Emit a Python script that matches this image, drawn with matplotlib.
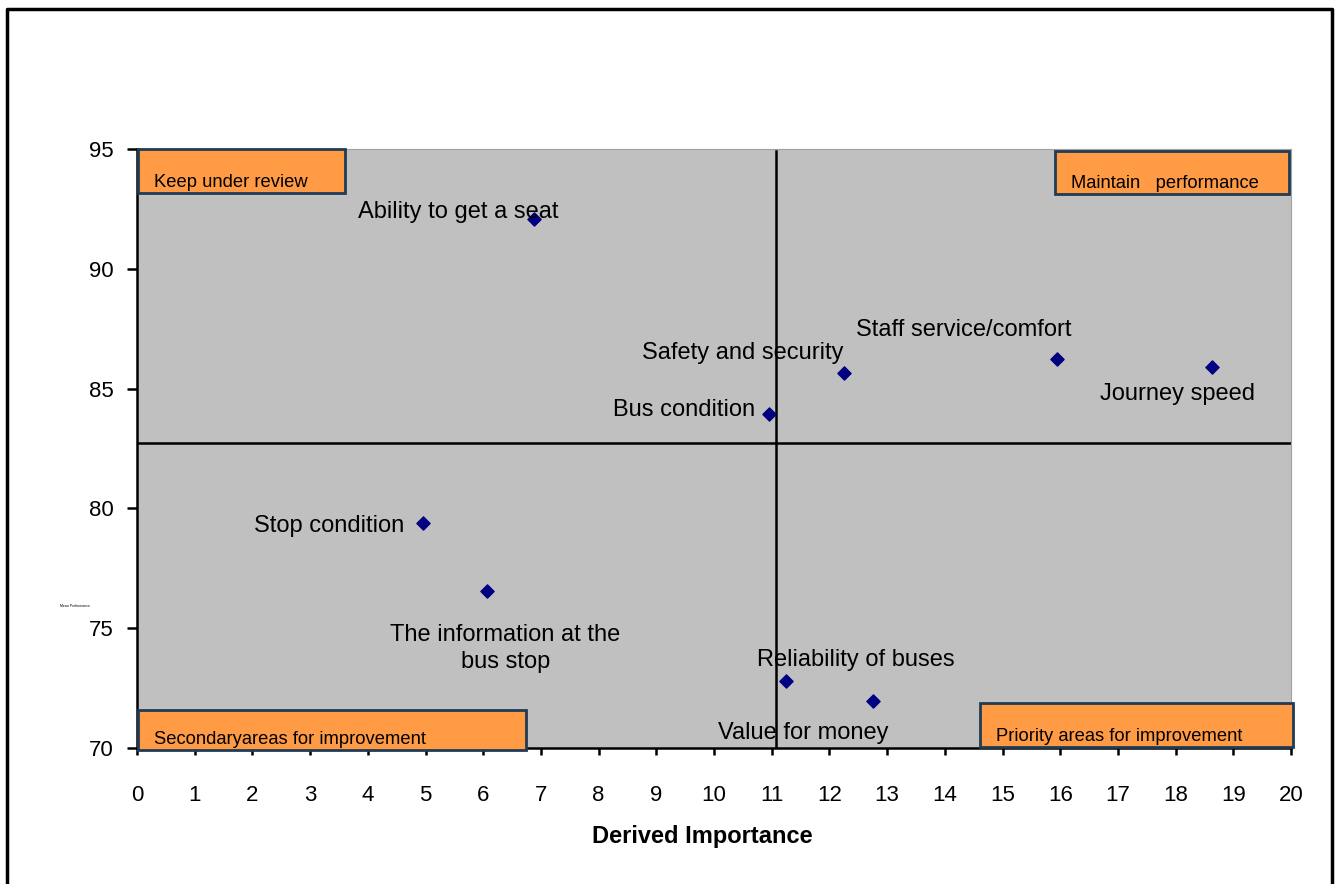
import matplotlib

matplotlib.use("Agg")
import matplotlib.pyplot as plt
from matplotlib.lines import Line2D
from matplotlib.patches import Rectangle

plt.rcParams["font.family"] = ["Liberation Sans", "DejaVu Sans"]

# data
labels = [
    "Ability to get a seat",
    "Safety and security",
    "Staff service/comfort",
    "Journey speed",
    "Bus condition",
    "Stop condition",
    "The information at the\nbus stop",
    "Reliability of buses",
    "Value for money",
]
importance = [6.88, 12.25, 15.94, 18.63, 10.95, 4.96, 6.07, 11.25, 12.76]
performance = [92.08, 85.65, 86.24, 85.90, 83.94, 79.39, 76.55, 72.80, 71.96]

# label anchor positions (data coords, centred)
label_x = [5.56, 10.50, 14.33, 18.04, 9.48, 3.33, 6.38, 12.46, 11.54]
label_y = [92.37, 86.49, 87.45, 84.77, 84.11, 79.27, 74.15, 73.67, 70.63]

mean_importance = 11.07
mean_performance = 82.73

quadrants = [
    "Keep under review",
    "Maintain   performance",
    "Secondaryareas for improvement",
    "Priority areas for improvement",
]
quad_boxes = [  # x0, x1, y0, y1
    (0.02, 3.60, 93.15, 95.0),
    (15.91, 19.97, 93.12, 94.92),
    (0.02, 6.74, 69.92, 71.59),
    (14.61, 20.03, 70.04, 71.88),
]

fig = plt.figure(figsize=(13.38, 8.84), dpi=100)
ax = fig.add_axes([0.1024, 0.1538, 0.8625, 0.6776])
ax.set_facecolor("#C0C0C0")
ax.set_xlim(0, 20)
ax.set_ylim(70, 95)
ax.set_xticks(range(0, 21))
ax.set_yticks(range(70, 96, 5))
ax.tick_params(axis="both", labelsize=16, width=1.8, direction="out")
ax.tick_params(axis="x", length=5, pad=21.5)
ax.tick_params(axis="y", length=7, pad=10)
for side in ("top", "right"):
    ax.spines[side].set_color("#A0A0A0")
for side in ("left", "bottom"):
    ax.spines[side].set_color("black")
    ax.spines[side].set_linewidth(1.8)

ax.plot([mean_importance, mean_importance], [94.9, 70], color="black", lw=1.8)
ax.plot([0, 20], [mean_performance, mean_performance], color="black", lw=1.8)

ax.scatter(importance, performance, marker="D", s=45, color="#000080", zorder=5)
for txt, lx, ly in zip(labels, label_x, label_y):
    ax.text(lx, ly, txt, fontsize=17, ha="center", va="center",
            linespacing=1.3, zorder=6)

for txt, (x0, x1, y0, y1) in zip(quadrants, quad_boxes):
    ax.add_patch(Rectangle((x0, y0), x1 - x0, y1 - y0, facecolor="#FF9A45",
                           edgecolor="#1F3B55", lw=2, clip_on=False, zorder=7))
    ax.text(x0 + 0.28, y0 + 0.1, txt, fontsize=13.2, ha="left",
            va="bottom", zorder=8, clip_on=False)

fig.text(702 / 1338, 1 - 837 / 884, "Derived Importance", fontsize=17,
         fontweight="bold", ha="center", va="center")
fig.text(75 / 1338, 1 - 606 / 884, "Mean Performance", fontsize=2.5,
         ha="center", va="center")

# outer chart frame (open at the bottom)
fx0, fx1, fy1 = 7 / 1338, 1332 / 1338, 1 - 9 / 884
fig.add_artist(Line2D([fx0, fx0, fx1, fx1], [0, fy1, fy1, 0],
                      transform=fig.transFigure, color="black", lw=2.5))

fig.savefig("out.png", dpi=100)
